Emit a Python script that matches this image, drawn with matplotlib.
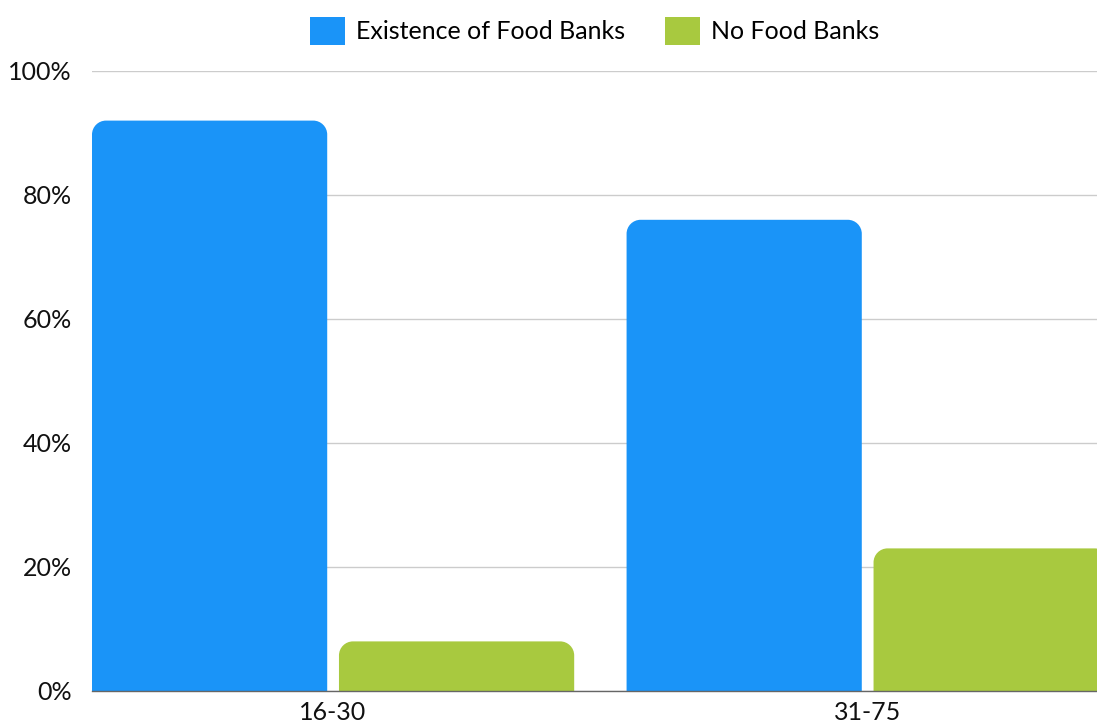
import matplotlib
matplotlib.use("Agg")
import matplotlib.pyplot as plt
from matplotlib.patches import PathPatch, Patch
from matplotlib.path import Path

categories = ["16-30", "31-75"]
series_names = ["Existence of Food Banks", "No Food Banks"]
food_banks = [92, 76]
no_food_banks = [8, 23]
colors = ["#1a94f8", "#a8c93f"]
yticks = [0, 20, 40, 60, 80, 100]
ytick_labels = ["0%", "20%", "40%", "60%", "80%", "100%"]

plt.rcParams['font.family'] = ['Lato', 'DejaVu Sans']
W, H = 1097, 728
fig = plt.figure(figsize=(W / 100, H / 100), dpi=100)
ax = fig.add_axes([92 / W, (H - 691) / H, (W - 92) / W, 620 / H])

xlim = (-0.45, 1.43)
ylim = (0, 100)
ax.set_xlim(*xlim)
ax.set_ylim(*ylim)

px_x = (xlim[1] - xlim[0]) / (W - 92)
px_y = (ylim[1] - ylim[0]) / 620
radius_px = 14
rx, ry = radius_px * px_x, radius_px * px_y
k = 0.5523
bar_w = 0.44
offsets = [-0.23, 0.232]


def top_rounded(x0, x1, y0, y1):
    verts = [
        (x0, y0), (x0, y1 - ry),
        (x0, y1 - ry + k * ry), (x0 + rx - k * rx, y1), (x0 + rx, y1),
        (x1 - rx, y1),
        (x1 - rx + k * rx, y1), (x1, y1 - ry + k * ry), (x1, y1 - ry),
        (x1, y0), (x0, y0),
    ]
    codes = [Path.MOVETO, Path.LINETO,
             Path.CURVE4, Path.CURVE4, Path.CURVE4,
             Path.LINETO,
             Path.CURVE4, Path.CURVE4, Path.CURVE4,
             Path.LINETO, Path.CLOSEPOLY]
    return Path(verts, codes)


for vals, col, off in zip([food_banks, no_food_banks], colors, offsets):
    for i, v in enumerate(vals):
        x0 = i + off - bar_w / 2
        ax.add_patch(PathPatch(top_rounded(x0, x0 + bar_w, 0, v),
                               facecolor=col, edgecolor='none', zorder=3))

fs = 18
ax.set_yticks(yticks)
ax.set_yticklabels(ytick_labels)
ax.set_xticks(range(len(categories)))
ax.set_xticklabels(categories)
ax.grid(axis='y', color='#cccccc', linewidth=1, zorder=0)
ax.set_axisbelow(True)
for sp in ['top', 'right', 'left']:
    ax.spines[sp].set_visible(False)
ax.spines['bottom'].set_color('#666666')
ax.spines['bottom'].set_linewidth(1)
ax.spines['bottom'].set_zorder(4)
ax.tick_params(axis='both', length=0, labelsize=fs, colors='#111111')
ax.tick_params(axis='y', pad=14.4)
ax.tick_params(axis='x', pad=7)

handles = [Patch(facecolor=c, edgecolor='none') for c in colors]
ax.legend(handles, series_names, loc='center', bbox_to_anchor=(0.5, 660 / 620),
          ncol=2, frameon=False, fontsize=fs, handlelength=1.4, handleheight=1.4,
          handletextpad=0.45, columnspacing=1.6, borderaxespad=0)

fig.savefig("out.png", dpi=100)
